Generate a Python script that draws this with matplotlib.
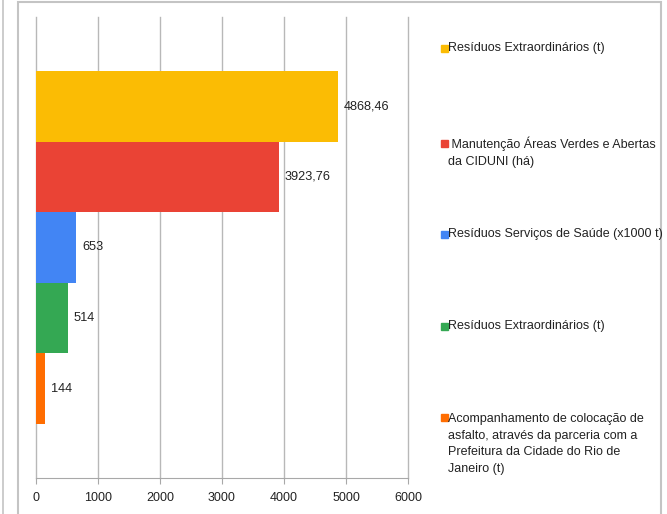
import matplotlib.pyplot as plt
from matplotlib.patches import Rectangle
from matplotlib.lines import Line2D

# Dados do gráfico (de cima para baixo)
categorias = [
    'Resíduos Extraordinários (t)',
    ' Manutenção Áreas Verdes e Abertas\nda CIDUNI (há)',
    'Resíduos Serviços de Saúde (x1000 t)',
    'Resíduos Extraordinários (t)',
    'Acompanhamento de colocação de\nasfalto, através da parceria com a\nPrefeitura da Cidade do Rio de\nJaneiro (t)',
]
valores = [4868.46, 3923.76, 653, 514, 144]
rotulos = ['4868,46', '3923,76', '653', '514', '144']
cores = ['#FBBC04', '#EA4335', '#4285F4', '#34A853', '#FF6D01']
ticks_x = [0, 1000, 2000, 3000, 4000, 5000, 6000]

plt.rcParams['font.family'] = 'Liberation Sans'

W, H = 667, 514
fig = plt.figure(figsize=(W / 100, H / 100), dpi=100)

# moldura do gráfico e borda do painel vizinho
fig.patches.append(Rectangle((18 / W, -0.1), (661 - 18) / W, 1.1 - 2 / H,
                             transform=fig.transFigure, fill=False,
                             edgecolor='#c4c4c4', linewidth=1.5))
fig.lines.append(Line2D([3 / W, 3 / W], [0, 1], transform=fig.transFigure,
                        color='#c4c4c4', linewidth=1.2))

ax = fig.add_axes([36 / W, (H - 478) / H, (408 - 36) / W, (478 - 17) / H])
pos = list(range(len(valores)))
ax.barh(pos, valores, height=1.0, color=cores, zorder=2)

for p, v, r in zip(pos, valores, rotulos):
    ax.text(v + 90, p, r, va='center', ha='left', fontsize=9.2, color='#222222')

ax.set_xlim(0, 6000)
ax.set_ylim(4.5 + 0.765, -0.5 - 0.765)
ax.set_xticks(ticks_x)
ax.set_yticks([])
ax.grid(axis='x', color='#b8b8b8', linewidth=1, zorder=0)
for gl in ax.get_xgridlines():
    gl.set_clip_on(False)
for lado in ['top', 'right', 'left']:
    ax.spines[lado].set_visible(False)
ax.spines['bottom'].set_color('#a8a8a8')
ax.tick_params(axis='x', length=4, color='#a8a8a8', labelsize=9,
               labelcolor='#222222', pad=6)

# legenda posicionada manualmente
legenda_y = [48, 152, 234, 326, 444]
for cat, cor, y in zip(categorias, cores, legenda_y):
    n = cat.count('\n') + 1
    y_top = y - (n - 1) * 17.5 / 2
    fig.patches.append(Rectangle((441 / W, 1 - (y_top + 3.5) / H), 6.5 / W, 7 / H,
                                 transform=fig.transFigure, color=cor))
    fig.text(448 / W, 1 - y / H, cat, ha='left', va='center', fontsize=9.0,
             color='#222222', linespacing=1.55)

fig.savefig('out.png', dpi=100)
